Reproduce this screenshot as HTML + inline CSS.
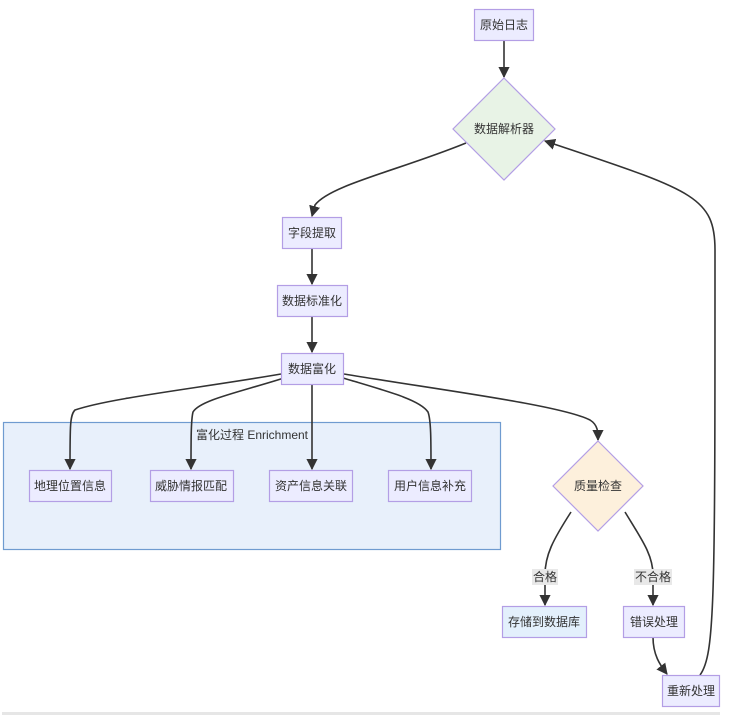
<!DOCTYPE html>
<html><head><meta charset="utf-8"><style>
body{margin:0;background:#fff;}
svg text{font-family:"Liberation Sans","Noto Sans CJK SC",sans-serif;font-size:12px;fill:#333;}
</style></head><body>
<svg width="734" height="715" viewBox="0 0 734 715" xmlns="http://www.w3.org/2000/svg">
<defs><marker id="a" viewBox="0 0 10 10" refX="9" refY="5" markerWidth="7" markerHeight="7" orient="auto"><path d="M0,0L10,5L0,10z" fill="#333"/></marker></defs>
<rect x="3.5" y="422.5" width="497" height="127" fill="#e8f0fb" stroke="#6f9bd0" stroke-width="1.2"/>
<text x="252" y="439" text-anchor="middle">富化过程 Enrichment</text>
<g fill="none" stroke="#333" stroke-width="1.6" marker-end="url(#a)">
<path d="M504,41V77"/>
<path d="M466,143C400,170 330,185 315,205 L312,216"/>
<path d="M312,248V284"/>
<path d="M312,316V352"/>
<path d="M281,374C200,388 110,398 75,410 C70,415 70,425 70,469"/>
<path d="M284,378C240,392 200,400 193,412 C191,420 191,440 191,469"/>
<path d="M312,384V469"/>
<path d="M343,378C390,392 420,400 428,412 C431,420 431,440 431,469"/>
<path d="M344,374C440,390 560,405 590,420 C598,425 598,432 598,440"/>
<path d="M571,512C553,540 545,555 545,575 L545,605"/>
<path d="M625,512C642,540 653,555 653,575 L653,605"/>
<path d="M653,637C653,655 660,665 667,674"/>
<path d="M700,675C715,655 715,600 715,250 C715,195 690,190 545,141"/>
</g>
<rect x="532" y="569" width="26" height="16" fill="#e8e8e8"/>
<text x="545" y="581" text-anchor="middle">合格</text>
<rect x="634" y="569" width="38" height="16" fill="#e8e8e8"/>
<text x="653" y="581" text-anchor="middle">不合格</text>
<g stroke="#b39ee5" stroke-width="1.2">
<rect x="474.5" y="9.5" width="59" height="31" fill="#ececff"/>
<polygon points="504,78 555,129 504,180 453,129" fill="#e8f3e6"/>
<rect x="282.5" y="217.5" width="59" height="31" fill="#ececff"/>
<rect x="277.5" y="285.5" width="70" height="31" fill="#ececff"/>
<rect x="281.5" y="353.5" width="62" height="31" fill="#ececff"/>
<rect x="29.5" y="470.5" width="82" height="31" fill="#ececff"/>
<rect x="150.5" y="470.5" width="83" height="31" fill="#ececff"/>
<rect x="269.5" y="470.5" width="83" height="31" fill="#ececff"/>
<rect x="388.5" y="470.5" width="83" height="31" fill="#ececff"/>
<polygon points="598,441 643,486 598,531 553,486" fill="#fdf0dc"/>
<rect x="502.5" y="606.5" width="84" height="31" fill="#e3f0fc"/>
<rect x="623.5" y="606.5" width="61" height="31" fill="#ececff"/>
<rect x="662.5" y="675.5" width="57" height="31" fill="#ececff"/>
</g>
<g text-anchor="middle">
<text x="504" y="29">原始日志</text>
<text x="504" y="133">数据解析器</text>
<text x="312" y="237">字段提取</text>
<text x="312" y="305">数据标准化</text>
<text x="312" y="373">数据富化</text>
<text x="70" y="490">地理位置信息</text>
<text x="191" y="490">威胁情报匹配</text>
<text x="311" y="490">资产信息关联</text>
<text x="430" y="490">用户信息补充</text>
<text x="598" y="490">质量检查</text>
<text x="544" y="626">存储到数据库</text>
<text x="654" y="626">错误处理</text>
<text x="691" y="695">重新处理</text>
</g>
<rect x="2" y="712" width="718" height="3" fill="#e6e6e6"/>
</svg>
</body></html>
